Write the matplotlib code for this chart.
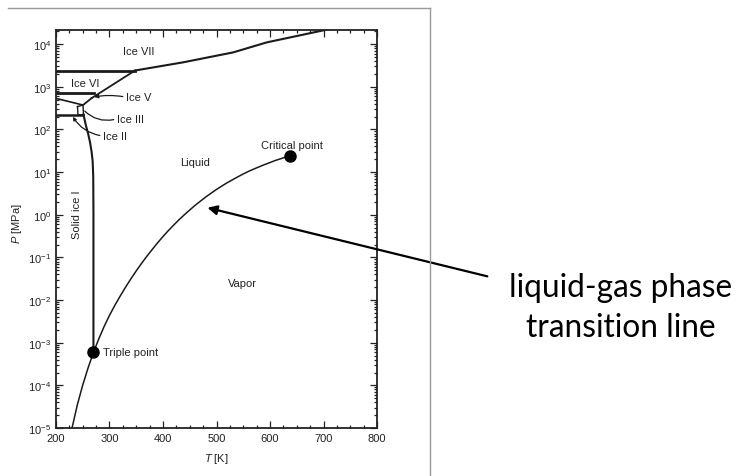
import numpy as np
import matplotlib
matplotlib.use("Agg")
import matplotlib.pyplot as plt
from matplotlib.lines import Line2D
from matplotlib.ticker import MultipleLocator, LogLocator, NullFormatter

plt.rcParams['font.family'] = ['Liberation Sans', 'DejaVu Sans']
plt.rcParams['mathtext.fontset'] = 'custom'
plt.rcParams['mathtext.rm'] = 'Liberation Sans'
plt.rcParams['mathtext.it'] = 'Liberation Sans:italic'

# phase boundaries: T [K], P [MPa]
vap_T = [230, 240, 250, 260, 270, 280, 290, 300, 310, 320, 330, 340, 350, 360,
         370, 380, 390, 400, 410, 420, 430, 440, 450, 460, 470, 480, 490, 500,
         510, 520, 530, 540, 550, 560, 570, 580, 590, 600, 610, 620, 630, 637]
vap_P = [1.0e-5, 3.55e-5, 1.02e-4, 2.57e-4, 5.9e-4, 1.23e-3, 2.40e-3, 4.37e-3,
         7.52e-3, 1.24e-2, 2.0e-2, 3.14e-2, 4.83e-2, 7.26e-2, 0.107, 0.154, 0.220,
         0.308, 0.424, 0.571, 0.764, 1.00, 1.29, 1.66, 2.08, 2.61, 3.20, 3.91, 4.70,
         5.62, 6.61, 7.74, 9.02, 10.4, 11.8, 13.3, 15.0, 16.7, 18.7, 20.5, 22.5, 23.7]

melt1_T = [270, 270, 269.6, 268.5, 266.5, 263.6, 260, 256, 251.4]
melt1_P = [5.9e-4, 1.0, 8, 18, 30, 50, 80, 122, 223]

vii_T = [347.7, 437, 531, 594, 703, 740]
vii_P = [2400, 3720, 6380, 10960, 21400, 26000]

vi_T = [347.7, 266.7]
vi_P = [2400, 542]

v_T = [266.7, 250.5]
v_P = [542, 372]

h_vii_T = [200, 347.7]
h_vii_P = [2400, 2400]
h_vi_T = [200, 271]
h_vi_P = [700, 700]
iiv_T = [200, 250.5]
iiv_P = [533, 372]
h_ii_T = [200, 251.4]
h_ii_P = [223, 223]

box_T = [240.2, 250.5, 251.4, 241.1, 240.2]
box_P = [343, 372, 223, 217, 343]

triple = (270, 5.9e-4)
critical = (637, 23.7)

fig = plt.figure(figsize=(7.39, 4.77), dpi=100)
ax = fig.add_axes([56 / 739, 1 - 429 / 477, 321 / 739, 398 / 477])
ax.set_yscale('log')
ax.set_xlim(200, 800)
ax.set_ylim(1e-5, 10 ** 4.33)

lc = '#1a1a1a'
ax.plot(vap_T, vap_P, color=lc, lw=1.1)
ax.plot(melt1_T, melt1_P, lw=1.5, color=lc)
ax.plot(vii_T, vii_P, lw=1.5, color=lc)
ax.plot(vi_T, vi_P, lw=1.3, color=lc)
ax.plot(v_T, v_P, lw=1.3, color=lc)
ax.plot(h_vii_T, h_vii_P, lw=2.0, color=lc)
ax.plot(h_vi_T, h_vi_P, lw=2.0, color=lc)
ax.plot(iiv_T, iiv_P, lw=1.2, color=lc)
ax.plot(h_ii_T, h_ii_P, lw=1.8, color=lc)
ax.plot(box_T, box_P, lw=1.0, color=lc)

ax.plot(*triple, 'o', color='black', ms=8)
ax.plot(*critical, 'o', color='black', ms=8)

fs = 8
tc = '#222222'
ax.text(355, 6850, 'Ice VII', fontsize=fs, color=tc, ha='center', va='center')
ax.text(254, 1220, 'Ice VI', fontsize=fs, color=tc, ha='center', va='center')
ax.text(331, 573, 'Ice V', fontsize=fs, color=tc, ha='left', va='center')
ax.text(314, 175, 'Ice III', fontsize=fs, color=tc, ha='left', va='center')
ax.text(288, 70, 'Ice II', fontsize=fs, color=tc, ha='left', va='center')
ax.text(641, 43, 'Critical point', fontsize=fs, color=tc, ha='center', va='center')
ax.text(460, 17.2, 'Liquid', fontsize=fs, color=tc, ha='center', va='center')
ax.text(239, 1.04, 'Solid ice I', fontsize=fs, color=tc, ha='center', va='center', rotation=90)
ax.text(549, 0.025, 'Vapor', fontsize=fs, color=tc, ha='center', va='center')
ax.text(288, 5.9e-4, 'Triple point', fontsize=fs, color=tc, ha='left', va='center')

# leader lines for the small ice phases
ax.annotate('', xy=(266, 560), xytext=(330, 573),
            arrowprops=dict(arrowstyle='-|>', color=lc, lw=0.9, mutation_scale=6,
                            connectionstyle='arc3,rad=0.1'))
ax.annotate('', xy=(250, 300), xytext=(313, 175),
            arrowprops=dict(arrowstyle='-', color=lc, lw=0.9,
                            connectionstyle='arc3,rad=-0.3'))
ax.annotate('', xy=(229, 225), xytext=(287, 70),
            arrowprops=dict(arrowstyle='-|>', color=lc, lw=0.9, mutation_scale=5,
                            connectionstyle='arc3,rad=-0.25'))

ax.set_xticks([200, 300, 400, 500, 600, 700, 800])
ax.xaxis.set_minor_locator(MultipleLocator(25))
ax.yaxis.set_major_locator(LogLocator(base=10, numticks=20))
ax.yaxis.set_minor_locator(LogLocator(base=10, subs=np.arange(2, 10), numticks=20))
ax.yaxis.set_minor_formatter(NullFormatter())
ax.tick_params(which='both', direction='in', top=True, right=True, labelsize=8,
               colors='#222222', width=0.9)
ax.tick_params(which='major', length=5)
ax.tick_params(which='minor', length=2.5)
for s in ax.spines.values():
    s.set_linewidth(1.3)
    s.set_color('#222222')

ax.set_xlabel(r'$T$ [K]', fontsize=8, color=tc, labelpad=6)
ax.set_ylabel(r'$P$ [MPa]', fontsize=8, color=tc)
ax.yaxis.set_label_coords(-0.10, 0.515)

# arrow pointing to the coexistence curve
ax.annotate('', xy=(478, 1.51), xycoords='data',
            xytext=(490 / 739, 1 - 278 / 477), textcoords='figure fraction',
            arrowprops=dict(arrowstyle='-|>', color='black', lw=1.6, mutation_scale=14),
            annotation_clip=False)
fig.text(621 / 739, 1 - 297 / 477, 'liquid-gas phase', fontsize=22.8, family='Lato',
         ha='center', va='baseline')
fig.text(621 / 739, 1 - 337 / 477, 'transition line', fontsize=22.8, family='Lato',
         ha='center', va='baseline')

# frame around the scanned figure
fig.add_artist(Line2D([8 / 739, 430 / 739], [1 - 9 / 477, 1 - 9 / 477],
                      transform=fig.transFigure, color='#999999', lw=1))
fig.add_artist(Line2D([430 / 739, 430 / 739], [1 - 9 / 477, 0],
                      transform=fig.transFigure, color='#999999', lw=1))

fig.savefig('out.png', dpi=100)
